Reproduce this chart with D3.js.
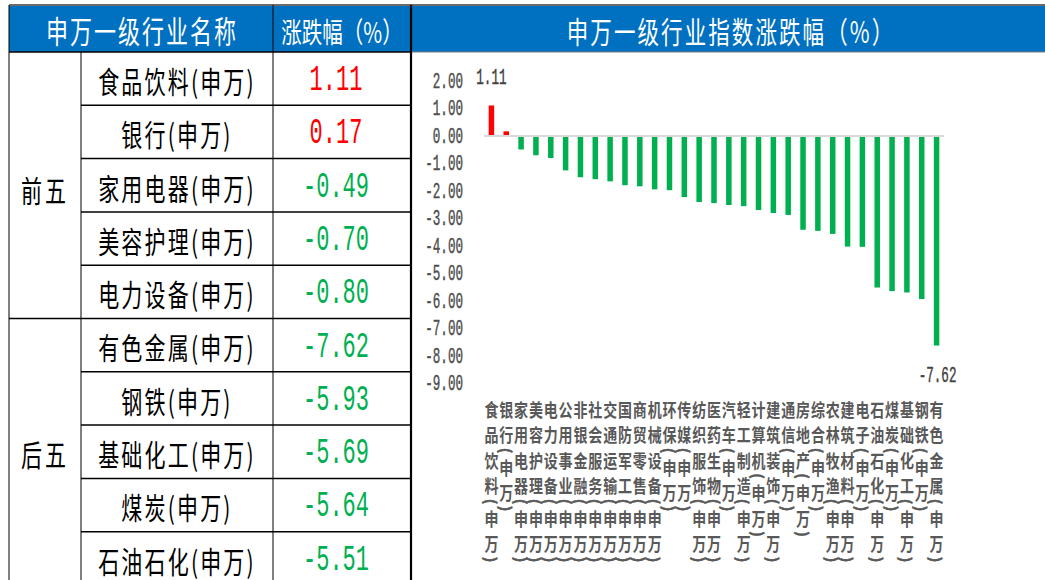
<!DOCTYPE html>
<html>
<head>
<meta charset="utf-8">
<script src="https://cdn.jsdelivr.net/npm/d3@7"></script>
<style>
  html, body { margin: 0; padding: 0; background: #ffffff; }
  svg { display: block; }
</style>
</head>
<body>
<svg id="chart" width="1045" height="580"></svg>
<script>
// ---------------- data ----------------
const categories = [
  "食品饮料(申万)", "银行(申万)", "家用电器(申万)", "美容护理(申万)", "电力设备(申万)",
  "公用事业(申万)", "非银金融(申万)", "社会服务(申万)", "交通运输(申万)", "国防军工(申万)",
  "商贸零售(申万)", "机械设备(申万)", "环保(申万)", "传媒(申万)", "纺织服饰(申万)",
  "医药生物(申万)", "汽车(申万)", "轻工制造(申万)", "计算机(申万)", "建筑装饰(申万)",
  "通信(申万)", "房地产(申万)", "综合(申万)", "农林牧渔(申万)", "建筑材料(申万)",
  "电子(申万)", "石油石化(申万)", "煤炭(申万)", "基础化工(申万)", "钢铁(申万)",
  "有色金属(申万)"
];
const changes = [
  1.11, 0.17, -0.49, -0.70, -0.80,
  -1.25, -1.50, -1.57, -1.65, -1.79,
  -1.83, -1.94, -1.97, -2.22, -2.40,
  -2.44, -2.51, -2.55, -2.69, -2.80,
  -2.87, -3.41, -3.45, -3.56, -4.02,
  -4.03, -5.51, -5.64, -5.69, -5.93,
  -7.62
];
const yTicks = [2, 1, 0, -1, -2, -3, -4, -5, -6, -7, -8, -9];

const topGroupLabel = "前五";
const topNames = ["食品饮料(申万)", "银行(申万)", "家用电器(申万)", "美容护理(申万)", "电力设备(申万)"];
const topValues = ["1.11", "0.17", "-0.49", "-0.70", "-0.80"];
const bottomGroupLabel = "后五";
const bottomNames = ["有色金属(申万)", "钢铁(申万)", "基础化工(申万)", "煤炭(申万)", "石油石化(申万)"];
const bottomValues = ["-7.62", "-5.93", "-5.69", "-5.64", "-5.51"];

const tableHeaders = ["申万一级行业名称", "涨跌幅（%）"];
const chartTitle = "申万一级行业指数涨跌幅（%）";

// ---------------- setup ----------------
const svg = d3.select("#chart");
const CJK = "'Noto Sans CJK SC', 'Noto Sans', sans-serif";
const MONO = "'Liberation Mono', 'DejaVu Sans Mono', monospace";
const BLUE = "#0070C0";
const RED = "#FF0000";
const GREEN = "#00B050";

function stretchText(parent, x, y, str, o) {
  const g = parent.append("g")
    .attr("transform", `translate(${x},${y}) scale(1,${o.sy || 1})` + (o.rotate ? ` rotate(${o.rotate})` : ""));
  const t = g.append("text")
    .attr("x", 0).attr("y", 0)
    .attr("text-anchor", o.anchor || "middle")
    .attr("dominant-baseline", "central")
    .attr("font-family", o.family || CJK)
    .attr("font-size", o.size)
    .attr("font-weight", o.weight || "normal")
    .attr("letter-spacing", o.ls || 0)
    .attr("fill", o.fill || "#000")
    .text(str);
  if (o.stroke) t.attr("stroke", o.fill).attr("stroke-width", o.stroke);
  return g;
}

// ---------------- table ----------------
const tbl = svg.append("g");
const tLeft = 9, c1 = 81, c2 = 273, tRight = 411;
const headTop = 5, headBottom = 52;
const rowH = 53.3;

// header backgrounds
tbl.append("rect").attr("x", tLeft).attr("y", headTop + 1).attr("width", tRight - tLeft).attr("height", headBottom - headTop - 1).attr("fill", BLUE);
svg.append("rect").attr("x", tRight + 1).attr("y", headTop + 1).attr("width", 1045 - tRight - 1).attr("height", headBottom - headTop - 1).attr("fill", BLUE);

// header text
stretchText(tbl, (tLeft + c2) / 2 + 1, 30, tableHeaders[0], { size: 22, sy: 1.38, ls: 2, fill: "#fff" });
stretchText(tbl, (c2 + tRight) / 2, 30, tableHeaders[1], { size: 20.5, sy: 1.38, ls: 0, fill: "#fff" });
stretchText(svg, 731, 30, chartTitle, { size: 21.5, sy: 1.38, ls: 2.1, fill: "#fff" });

// rows
const rows = [];
topNames.forEach((n, i) => rows.push({ name: n, value: topValues[i] }));
bottomNames.forEach((n, i) => rows.push({ name: n, value: bottomValues[i] }));

rows.forEach((r, i) => {
  const cy = headBottom + rowH * i + rowH / 2 + 1;
  stretchText(tbl, (c1 + c2) / 2, cy, r.name, { size: 21, sy: 1.42, ls: 2.2, fill: "#000" });
  const num = parseFloat(r.value);
  stretchText(tbl, 336, cy, r.value, { family: MONO, size: 22, sy: 1.72, fill: num >= 0 ? RED : GREEN });
});
stretchText(tbl, (tLeft + c1) / 2, headBottom + rowH * 2.5 + 3, topGroupLabel, { size: 21, sy: 1.42, ls: 3, fill: "#000" });
stretchText(tbl, (tLeft + c1) / 2, headBottom + rowH * 7.5 + 1, bottomGroupLabel, { size: 21, sy: 1.42, ls: 3, fill: "#000" });

// lines
const L = (x1, y1, x2, y2, w, c) => svg.append("line")
  .attr("x1", x1).attr("y1", y1).attr("x2", x2).attr("y2", y2)
  .attr("stroke", c || "#000").attr("stroke-width", w || 1);
L(tLeft, headTop, 1045, headTop, 1.5, "#3a3a3a");
L(tLeft, headBottom, tRight, headBottom, 1.5, "#000");
L(tRight, headBottom, 1045, headBottom, 1, "#7f7f7f");
for (let i = 1; i < 10; i++) {
  const yy = headBottom + rowH * i;
  L(i === 5 ? tLeft : c1, yy, tRight, yy, 1.5, "#000");
}
L(tLeft, headTop, tLeft, 580, 1, "#000");
L(c1, headBottom, c1, 580, 1, "#000");
L(c2, headTop, c2, 580, 1, "#000");
L(tRight, headTop, tRight, 580, 2.2, "#000");

// ---------------- bar chart ----------------
const x = d3.scaleBand().domain(categories).range([484, 944]).paddingInner(0).paddingOuter(0);
const y = d3.scaleLinear().domain([-9, 2]).range([383.5, 81]);
const barW = 5.5;

const chart = svg.append("g");

// y axis
const yAxis = d3.axisLeft(y).tickValues(yTicks).tickSize(0).tickPadding(0).tickFormat(d => d.toFixed(2));
const ax = chart.append("g").attr("transform", "translate(463,0)").call(yAxis);
ax.select(".domain").remove();
ax.selectAll(".tick text")
  .attr("x", 0).attr("dy", null)
  .attr("dominant-baseline", "central")
  .attr("text-anchor", "end")
  .attr("font-family", MONO)
  .attr("font-size", 12.6)
  .attr("fill", "#4d4d4d")
  .attr("stroke", "#4d4d4d").attr("stroke-width", 0.25)
  .attr("transform", "scale(1,1.7)");

// bars
chart.selectAll("rect.bar").data(categories).join("rect")
  .attr("class", "bar")
  .attr("x", (d) => x(d) + x.bandwidth() / 2 - barW / 2)
  .attr("width", barW)
  .attr("y", (d, i) => y(Math.max(0, changes[i])))
  .attr("height", (d, i) => Math.abs(y(changes[i]) - y(0)))
  .attr("fill", (d, i) => changes[i] >= 0 ? RED : GREEN);

// zero line
chart.append("line")
  .attr("x1", x.range()[0]).attr("x2", x.range()[1])
  .attr("y1", y(0)).attr("y2", y(0))
  .attr("stroke", "#D9D9D9").attr("stroke-width", 2);

// data labels on max and min
const maxV = d3.max(changes), minV = d3.min(changes);
changes.forEach((v, i) => {
  if (v !== maxV && v !== minV) return;
  const cx = x(categories[i]) + x.bandwidth() / 2 + (v < 0 ? 1 : 0);
  const cy = v >= 0 ? y(v) - 28 : y(v) + 30;
  stretchText(chart, cx, cy, v.toFixed(2), { family: MONO, size: 12.6, sy: 1.7, fill: "#404040", stroke: 0.25 });
});

// category labels (stacked vertically, parens rotated)
const labelTop = 396;
const cjkStep = 25.5, parenStep = 7;
categories.forEach((name) => {
  const cx = x(name) + x.bandwidth() / 2;
  let yy = labelTop;
  for (const ch of name) {
    const isParen = ch === "(" || ch === ")";
    const step = isParen ? parenStep : cjkStep;
    const cy = yy + step / 2;
    stretchText(chart, cx, cy, ch, {
      size: isParen ? 15 : 14, sy: isParen ? 1 : 1.3, weight: "bold", fill: "#595959",
      rotate: isParen ? 90 : 0, stroke: isParen ? 0.5 : 0
    });
    yy += step;
  }
});
</script>
</body>
</html>
